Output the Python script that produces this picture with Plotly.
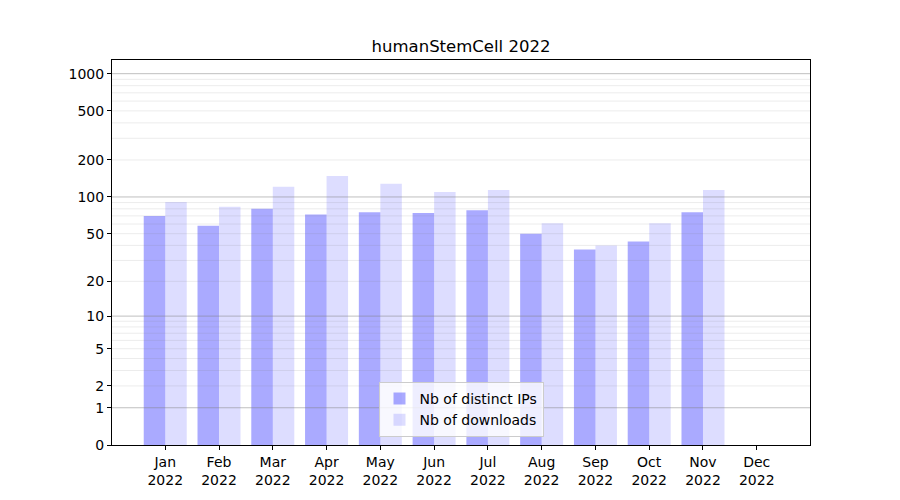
import plotly.graph_objects as go

months = ["Jan", "Feb", "Mar", "Apr", "May", "Jun", "Jul", "Aug", "Sep", "Oct", "Nov", "Dec"]
year = "2022"
distinct_ips = [70, 58, 80, 72, 75, 74, 78, 50, 37, 43, 75, 0]
downloads = [91, 83, 121, 148, 128, 110, 114, 61, 40, 61, 114, 0]
ytick_values = [0, 1, 2, 5, 10, 20, 50, 100, 200, 500, 1000]
major_grid = [1, 10, 100, 1000]
minor_grid = [m * d for d in (1, 10, 100) for m in range(2, 10)]

xpos = list(range(len(months)))
xlabels = [f"{m}<br>{year}" for m in months]
XMIN, XMAX = -0.99, 11.99

fig = go.Figure()

def grid_trace(vals, color):
    xs, ys = [], []
    for v in vals:
        xs += [XMIN, XMAX, None]
        ys += [1 + v, 1 + v, None]
    return go.Scatter(x=xs, y=ys, mode="lines", line=dict(color=color, width=1),
                      hoverinfo="skip", showlegend=False)

fig.add_trace(go.Bar(x=xpos, y=[1 + v for v in distinct_ips], name="Nb of distinct IPs",
                     marker=dict(color="rgba(0,0,255,0.333)", line=dict(width=0)),
                     width=0.4, offset=-0.4))
fig.add_trace(go.Bar(x=xpos, y=[1 + v for v in downloads], name="Nb of downloads",
                     marker=dict(color="rgba(0,0,255,0.133)", line=dict(width=0)),
                     width=0.4, offset=0))

fig.add_trace(grid_trace(minor_grid, "rgba(128,128,128,0.15)"))
fig.add_trace(grid_trace(major_grid, "rgba(128,128,128,0.5)"))

font = dict(family="DejaVu Sans", size=14, color="black")

fig.update_layout(
    width=900, height=500,
    margin=dict(l=104, r=98, t=52, b=63, autoexpand=False),
    paper_bgcolor="white", plot_bgcolor="white",
    barmode="overlay",
    font=font,
    title=dict(text="humanStemCell 2022", x=0.5, xref="paper", xanchor="center",
               y=1 - 38 / 500, yref="container", yanchor="middle",
               font=dict(family="DejaVu Sans", size=16.5, color="black")),
    legend=dict(x=0.5, xanchor="center", y=0.021, yanchor="bottom",
                bgcolor="rgba(255,255,255,0.8)", bordercolor="#cccccc", borderwidth=1,
                font=dict(family="DejaVu Sans", size=14, color="black")),
    xaxis=dict(range=[XMIN, XMAX], tickmode="array", tickvals=xpos, ticktext=xlabels,
               showgrid=False, zeroline=False, showline=True, mirror=True,
               linecolor="black", linewidth=1, ticks="outside", ticklen=4,
               tickcolor="black", automargin=False),
    yaxis=dict(type="log", range=[0, 3.111], tickmode="array",
               tickvals=[1 + t for t in ytick_values], ticktext=[str(t) for t in ytick_values],
               showgrid=False, zeroline=False, showline=True, mirror=True,
               linecolor="black", linewidth=1, ticks="outside", ticklen=4,
               tickcolor="black", automargin=False),
)

fig.write_html("out.html")
